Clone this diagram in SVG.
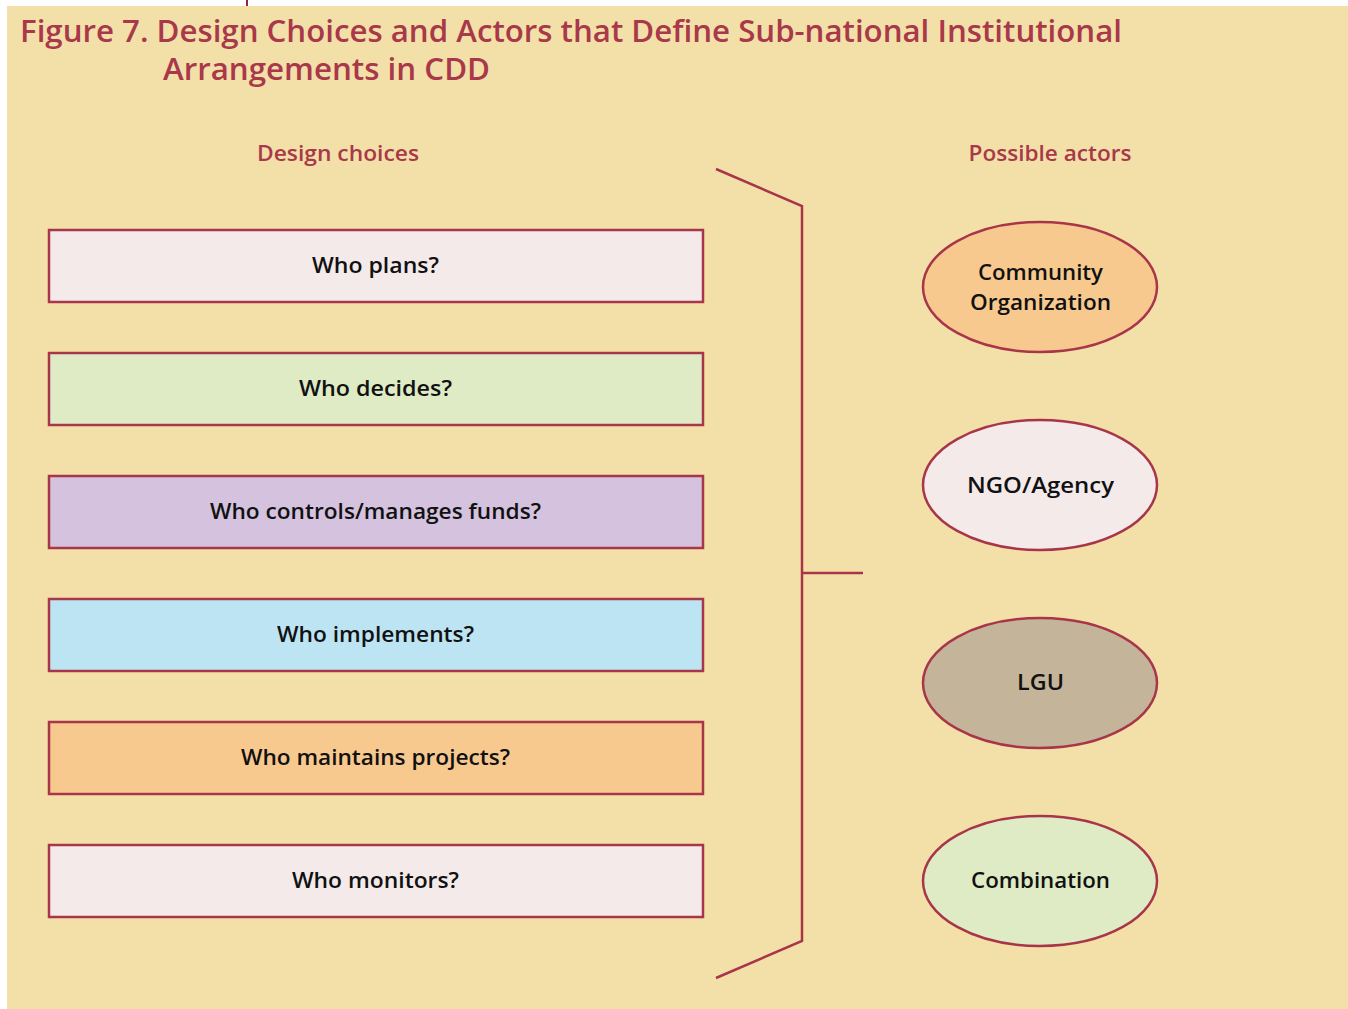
<svg xmlns="http://www.w3.org/2000/svg" width="1348" height="1009" viewBox="0 0 1348 1009">
<style>
.title{font-family:"Open Sans","Liberation Sans",sans-serif;font-weight:600;font-size:30px;fill:#A8384A}
.head{font-family:"Open Sans","Liberation Sans",sans-serif;font-weight:600;font-size:21px;fill:#A8384A;text-anchor:middle}
.box{stroke:#A8354A;stroke-width:2.5}
.lbl{font-family:"Open Sans","Liberation Sans",sans-serif;font-weight:600;font-size:21.5px;fill:#111;text-anchor:middle}
.conn{fill:none;stroke:#A8354A;stroke-width:2.5}
</style>
<rect x="0" y="0" width="1348" height="1009" fill="#ffffff"/>
<rect x="7" y="6" width="1341" height="1003" fill="#F3E0A8"/>
<line x1="247" y1="0" x2="247" y2="6" stroke="#8A2A3A" stroke-width="2"/>
<text class="title" x="20" y="42" textLength="1102" lengthAdjust="spacingAndGlyphs">Figure 7. Design Choices and Actors that Define Sub-national Institutional</text>
<text class="title" x="163" y="80" textLength="327" lengthAdjust="spacingAndGlyphs">Arrangements in CDD</text>
<text class="head" x="338" y="161" textLength="162" lengthAdjust="spacingAndGlyphs">Design choices</text>
<text class="head" x="1050" y="161" textLength="163" lengthAdjust="spacingAndGlyphs">Possible actors</text>
<g id="connectors">
<polyline class="conn" points="716,169 802,206 802,941 716,978"/>
<line class="conn" x1="802" y1="573" x2="863" y2="573"/>
</g>
<g id="plans"><rect class="box" x="49" y="230" width="654" height="72" fill="#F4EAEA"/><text class="lbl" x="375.5" y="273" textLength="127" lengthAdjust="spacingAndGlyphs">Who plans?</text></g>
<g id="decides"><rect class="box" x="49" y="353" width="654" height="72" fill="#DEEBC4"/><text class="lbl" x="375.5" y="396" textLength="153" lengthAdjust="spacingAndGlyphs">Who decides?</text></g>
<g id="funds"><rect class="box" x="49" y="476" width="654" height="72" fill="#D4C2DE"/><text class="lbl" x="375.5" y="519" textLength="331" lengthAdjust="spacingAndGlyphs">Who controls/manages funds?</text></g>
<g id="implements"><rect class="box" x="49" y="599" width="654" height="72" fill="#BDE4F3"/><text class="lbl" x="375.5" y="642" textLength="197" lengthAdjust="spacingAndGlyphs">Who implements?</text></g>
<g id="maintains"><rect class="box" x="49" y="722" width="654" height="72" fill="#F8C98E"/><text class="lbl" x="375.5" y="765" textLength="269" lengthAdjust="spacingAndGlyphs">Who maintains projects?</text></g>
<g id="monitors"><rect class="box" x="49" y="845" width="654" height="72" fill="#F4EAEA"/><text class="lbl" x="375.5" y="888" textLength="167" lengthAdjust="spacingAndGlyphs">Who monitors?</text></g>
<g id="community"><ellipse class="box" cx="1040" cy="287" rx="117" ry="65" fill="#F8C98E"/><text class="lbl" x="1040.5" y="280" textLength="125" lengthAdjust="spacingAndGlyphs">Community</text><text class="lbl" x="1040.5" y="310" textLength="141" lengthAdjust="spacingAndGlyphs">Organization</text></g>
<g id="ngo"><ellipse class="box" cx="1040" cy="485" rx="117" ry="65" fill="#F4EAEA"/><text class="lbl" x="1040.5" y="493" textLength="147" lengthAdjust="spacingAndGlyphs">NGO/Agency</text></g>
<g id="lgu"><ellipse class="box" cx="1040" cy="683" rx="117" ry="65" fill="#C4B59A"/><text class="lbl" x="1040.5" y="690" textLength="47" lengthAdjust="spacingAndGlyphs">LGU</text></g>
<g id="combination"><ellipse class="box" cx="1040" cy="881" rx="117" ry="65" fill="#DEEBC4"/><text class="lbl" x="1040.5" y="888" textLength="139" lengthAdjust="spacingAndGlyphs">Combination</text></g>
</svg>
